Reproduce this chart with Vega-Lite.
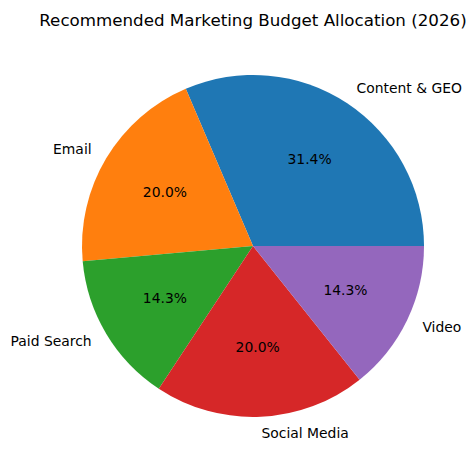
{
  "$schema": "https://vega.github.io/schema/vega-lite/v6.json",
  "autosize": {"type": "none"},
  "width": 446,
  "height": 412,
  "padding": {"left": 30, "top": 40, "right": 0, "bottom": 18},
  "background": "white",
  "title": {
    "text": "Recommended Marketing Budget Allocation (2026)",
    "font": "DejaVu Sans",
    "fontSize": 16.7,
    "fontWeight": "normal",
    "color": "black",
    "anchor": "middle",
    "frame": "group",
    "offset": 10
  },
  "data": {
    "values": [
      {"label": "Content & GEO", "value": 22},
      {"label": "Email", "value": 14},
      {"label": "Paid Search", "value": 10},
      {"label": "Social Media", "value": 14},
      {"label": "Video", "value": 10}
    ]
  },
  "transform": [
    {"window": [{"op": "row_number", "as": "idx"}]},
    {"joinaggregate": [{"op": "sum", "field": "value", "as": "total"}]},
    {"calculate": "datum.value / datum.total", "as": "share"}
  ],
  "encoding": {
    "theta": {
      "field": "value",
      "type": "quantitative",
      "stack": true,
      "scale": {"range": [1.5707963, 7.8539816]}
    },
    "order": {"field": "idx", "type": "quantitative", "sort": "descending"}
  },
  "layer": [
    {
      "mark": {"type": "arc", "outerRadius": 171, "stroke": null},
      "encoding": {
        "color": {
          "field": "label",
          "type": "nominal",
          "legend": null,
          "scale": {
            "domain": ["Content & GEO", "Email", "Paid Search", "Social Media", "Video"],
            "range": ["#1f77b4", "#ff7f0e", "#2ca02c", "#d62728", "#9467bd"]
          }
        }
      }
    },
    {
      "mark": {"type": "text", "radius": 102.6, "font": "DejaVu Sans", "fontSize": 13.9, "color": "black", "align": "center", "baseline": "middle"},
      "encoding": {
        "text": {"field": "share", "type": "quantitative", "format": ".1%"}
      }
    },
    {
      "mark": {"type": "text", "radius": 188, "font": "DejaVu Sans", "fontSize": 13.9, "color": "black", "align": "left", "baseline": "middle"},
      "encoding": {
        "text": {
          "condition": {"test": "datum.label != 'Email' && datum.label != 'Paid Search'", "field": "label"},
          "value": ""
        }
      }
    },
    {
      "mark": {"type": "text", "radius": 188, "font": "DejaVu Sans", "fontSize": 13.9, "color": "black", "align": "right", "baseline": "middle"},
      "encoding": {
        "text": {
          "condition": {"test": "datum.label == 'Email' || datum.label == 'Paid Search'", "field": "label"},
          "value": ""
        }
      }
    }
  ]
}
